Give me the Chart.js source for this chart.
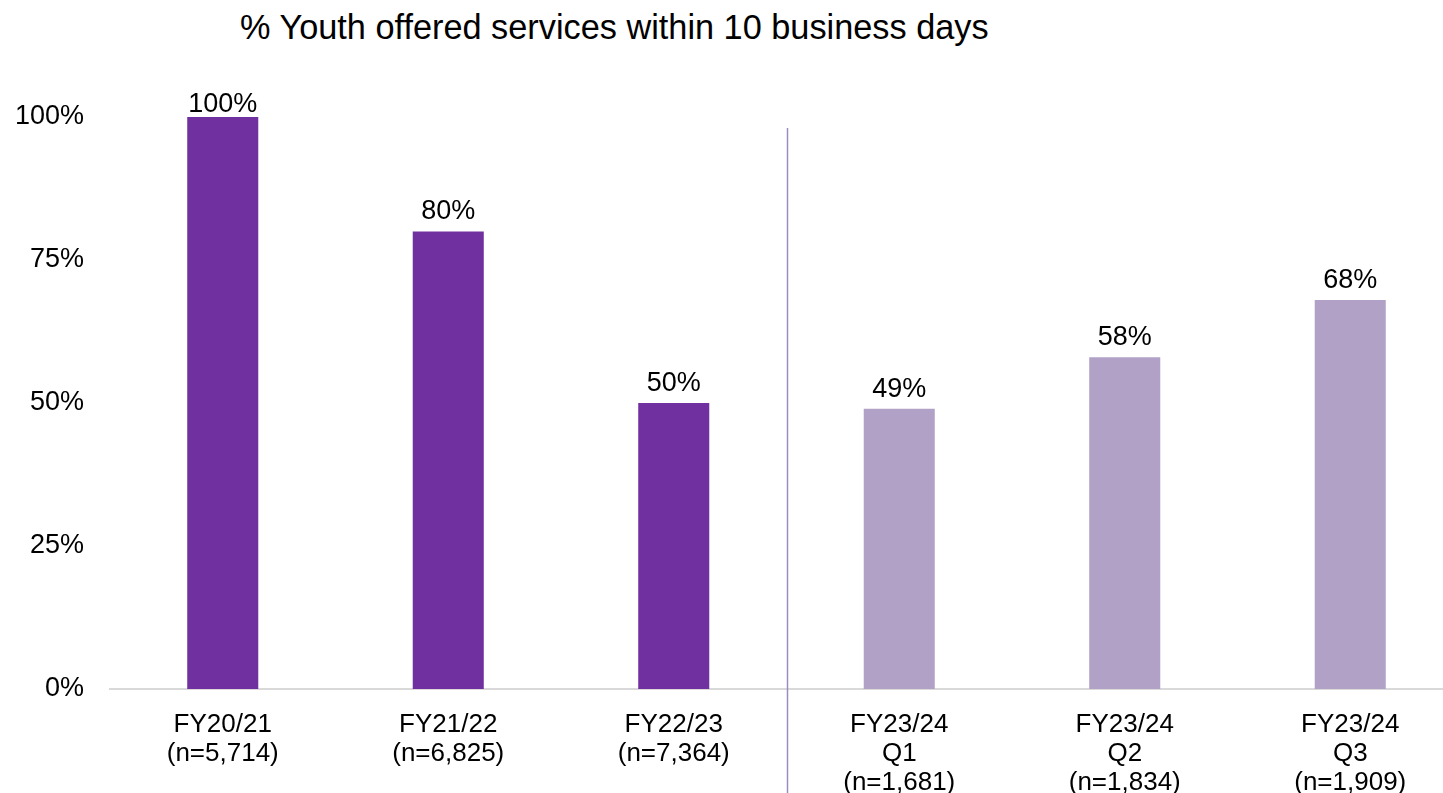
<!DOCTYPE html>
<html>
<head>
<meta charset="utf-8">
<script src="https://cdn.jsdelivr.net/npm/chart.js@4/dist/chart.umd.min.js"></script>
<style>
  html, body { margin: 0; padding: 0; background: #fff; overflow: hidden; width: 1443px; height: 793px; }
  #wrap { position: relative; width: 1480px; height: 793px; }
  #title { position: absolute; left: 240px; top: 10px; font-family: "Liberation Sans", Arial, sans-serif; font-size: 34.3px; line-height: 1; color: #000; white-space: nowrap; }
  canvas { position: absolute; left: 0; top: 0; }
</style>
</head>
<body>
<div id="wrap">
  <div id="title">% Youth offered services within 10 business days</div>
  <canvas id="c" width="1480" height="793"></canvas>
</div>
<script>
const categories = [
  ["FY20/21", "(n=5,714)"],
  ["FY21/22", "(n=6,825)"],
  ["FY22/23", "(n=7,364)"],
  ["FY23/24", "Q1", "(n=1,681)"],
  ["FY23/24", "Q2", "(n=1,834)"],
  ["FY23/24", "Q3", "(n=1,909)"]
];
const values = [100, 80, 50, 49, 58, 68];
const barColors = ["#7030a0", "#7030a0", "#7030a0", "#b2a1c7", "#b2a1c7", "#b2a1c7"];
const yTicks = [0, 25, 50, 75, 100];
const dividerAfterIndex = 2;

const FONT = '"Liberation Sans", Arial, sans-serif';

const extras = {
  id: 'extras',
  afterDatasetsDraw(chart) {
    const ctx = chart.ctx;
    const x = chart.scales.x;
    const meta = chart.getDatasetMeta(0);
    ctx.save();
    // divider
    const dx = Math.round((x.getPixelForValue(dividerAfterIndex) + x.getPixelForValue(dividerAfterIndex + 1)) / 2) + 0.5;
    ctx.strokeStyle = '#9e8bc5';
    ctx.lineWidth = 1.5;
    ctx.beginPath();
    ctx.moveTo(dx, chart.chartArea.top + 11);
    ctx.lineTo(dx, chart.height);
    ctx.stroke();
    // data labels
    ctx.fillStyle = '#000';
    ctx.font = '27px ' + FONT;
    ctx.textAlign = 'center';
    ctx.textBaseline = 'alphabetic';
    meta.data.forEach((bar, i) => {
      const yy = Math.max(bar.y - 12, chart.chartArea.top - 5);
      ctx.fillText(values[i] + '%', bar.x, yy);
    });
    ctx.restore();
  }
};

new Chart(document.getElementById('c'), {
  type: 'bar',
  data: {
    labels: categories,
    datasets: [{
      data: values,
      backgroundColor: barColors,
      borderWidth: 0,
      categoryPercentage: 1,
      barPercentage: 0.315
    }]
  },
  options: {
    responsive: false,
    animation: false,
    layout: { padding: { top: 117, right: 17, left: 0, bottom: 0 } },
    plugins: { legend: { display: false }, tooltip: { enabled: false }, title: { display: false } },
    scales: {
      x: {
        grid: { display: false, drawTicks: false },
        border: { display: true, color: '#d9d9d9', width: 2 },
        ticks: { color: '#000', font: { family: FONT, size: 26, lineHeight: 1.12 }, padding: 21, maxRotation: 0, autoSkip: false },
        afterFit(s) { s.height = 104; }
      },
      y: {
        min: 0, max: 100,
        afterBuildTicks(s) { s.ticks = yTicks.map(v => ({ value: v })); },
        grid: { display: false, drawTicks: false },
        border: { display: false },
        ticks: { color: '#000', font: { family: FONT, size: 27 }, padding: 26, callback: v => v + '%' },
        afterFit(s) { s.width = 110; }
      }
    }
  },
  plugins: [extras]
});
</script>
</body>
</html>
